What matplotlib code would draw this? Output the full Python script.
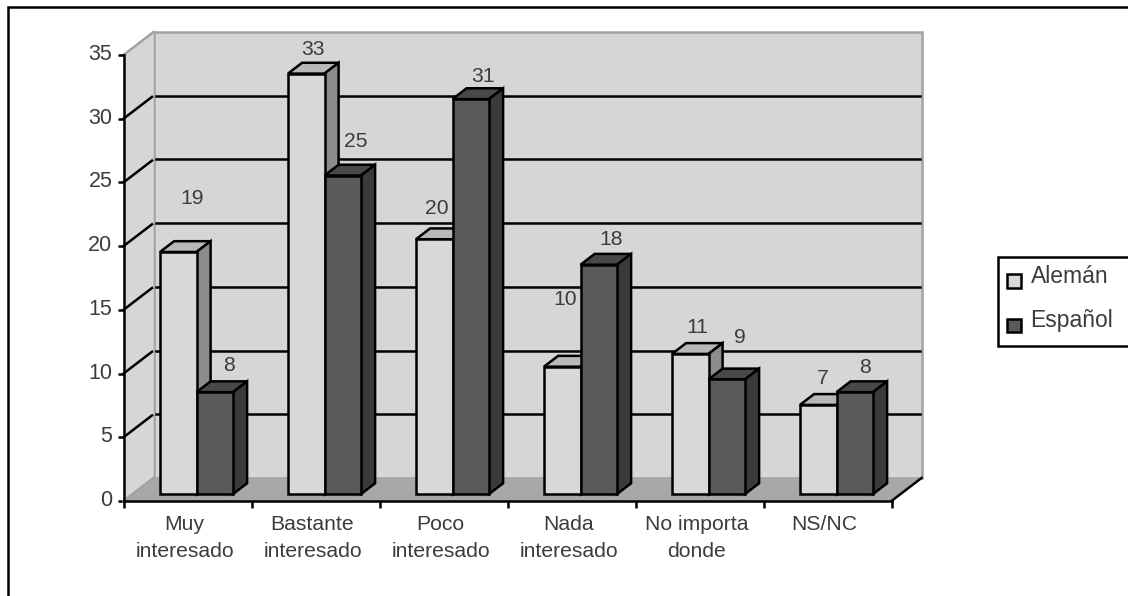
import matplotlib
matplotlib.use("Agg")
import matplotlib.pyplot as plt
from matplotlib.legend_handler import HandlerPatch
from matplotlib.lines import Line2D
from matplotlib.patches import Patch, Polygon, Rectangle
from matplotlib.transforms import ScaledTranslation

categories = ["Muy\ninteresado", "Bastante\ninteresado", "Poco\ninteresado",
              "Nada\ninteresado", "No importa\ndonde", "NS/NC"]
aleman = [19, 33, 20, 10, 11, 7]
espanol = [8, 25, 31, 18, 9, 8]
y_ticks = [0, 5, 10, 15, 20, 25, 30, 35]

# label offsets from the top-centre of each bar front, in pixels (x right, y up)
aleman_label_off = [(14, 53), (7, 24), (3, 31), (3, 67), (7, 26), (5, 26)]
espanol_label_off = [(14, 27), (13, 34), (12, 23), (12, 25), (13, 42), (10, 25)]

W, H = 1128, 596
DPI = 100
plt.rcParams["font.family"] = ["Liberation Sans", "DejaVu Sans"]
TXT = "#3c3c3c"
WALL = "#d6d6d6"
FLOOR = "#a8a8a8"
EDGE = "#a2a2a2"
LIGHT = ("#d8d8d8", "#b8b8b8", "#8c8c8c")
DARK = ("#5a5a5a", "#484848", "#3a3a3a")

fig = plt.figure(figsize=(W / DPI, H / DPI), dpi=DPI, facecolor="white")
x0, x1, y0, y1 = 123.5, 891.5, 501, 55
ax = fig.add_axes([x0 / W, 1 - y0 / H, (x1 - x0) / W, (y0 - y1) / H])
ax.set_xlim(0, 6)
ax.set_ylim(0, 35)
ax.patch.set_visible(False)

px_x = 6 / (x1 - x0)
px_y = 35 / (y0 - y1)
DX, DY = 30 * px_x, 23 * px_y   # depth of the chart box, data units
lw = 1.8


def d(x, y, f):
    return (x + f * DX, y + f * DY)


# walls and floor
ax.add_patch(Polygon([d(0, 0, 1), d(6, 0, 1), d(6, 35, 1), d(0, 35, 1)], fc=WALL, ec=EDGE, lw=lw,
                     zorder=1, clip_on=False))
ax.add_patch(Polygon([d(0, 0, 0), d(0, 0, 1), d(0, 35, 1), d(0, 35, 0)], fc=WALL, ec="none",
                     zorder=1, clip_on=False))
ax.plot(*zip(d(0, 35, 0), d(0, 35, 1)), color=EDGE, lw=lw, zorder=1.5, clip_on=False)
ax.add_patch(Polygon([d(0, 0, 0), d(6, 0, 0), d(6, 0, 1), d(0, 0, 1)], fc=FLOOR, ec="none",
                     zorder=2, clip_on=False))
ax.plot(*zip(d(6, 0, 0), d(6, 0, 1)), color="black", lw=lw, zorder=2.5, clip_on=False)
ax.plot(*zip(d(0, 0, 0), d(0, 0, 1)), color=EDGE, lw=lw, zorder=2.5, clip_on=False)

# gridlines
for t in y_ticks[1:-1]:
    ax.plot(*zip(d(0, t, 0), d(0, t, 0.95)), color="black", lw=lw, zorder=1.6, clip_on=False)
    ax.plot([DX + 2 * px_x, 6 + DX - 2 * px_x], [t + DY, t + DY], color="black", lw=lw, zorder=1.6, clip_on=False)

# bars
F0, F1 = 0.30, 0.77
BW = 36.5 * px_x
pos = [i + 0.5 for i in range(len(categories))]


def draw_series(xs, vals, cols, offs, z, label):
    xf = [x + F0 * DX for x in xs]
    ax.bar(xf, vals, width=BW, bottom=F0 * DY, align="edge", color=cols[0], edgecolor="black",
           linewidth=lw, zorder=z + 0.2, clip_on=False, label=label)
    for x, v, off in zip(xs, vals, offs):
        xa, xb = x, x + BW
        ax.add_patch(Polygon([d(xa, v, F0), d(xb, v, F0), d(xb, v, F1), d(xa, v, F1)], closed=True,
                             fc=cols[1], ec="black", lw=lw, zorder=z, joinstyle="miter", clip_on=False))
        ax.add_patch(Polygon([d(xb, 0, F0), d(xb, 0, F1), d(xb, v, F1), d(xb, v, F0)], closed=True,
                             fc=cols[2], ec="black", lw=lw, zorder=z, joinstyle="miter", clip_on=False))
        ax.annotate(str(v), xy=d(x + BW / 2, v, F0), xytext=(off[0] * 72 / DPI, off[1] * 72 / DPI),
                    textcoords="offset points", ha="center", va="center", fontsize=15.2,
                    color=TXT, zorder=20, annotation_clip=False)


draw_series([p - BW for p in pos], aleman, LIGHT, aleman_label_off, 5, "Alemán")
draw_series(pos, espanol, DARK, espanol_label_off, 6, "Español")

# axes
for s in ("top", "right"):
    ax.spines[s].set_visible(False)
for s in ("left", "bottom"):
    ax.spines[s].set_linewidth(lw)
    ax.spines[s].set_zorder(15)
ax.set_yticks(y_ticks)
ax.tick_params(axis="y", length=4.5, width=lw, pad=3.5, labelsize=15.5, labelcolor=TXT)
ax.set_xticks(range(7))
ax.set_xticklabels([])
ax.set_xticks(pos, minor=True)
ax.set_xticklabels(categories, minor=True, fontsize=15.2, color=TXT, linespacing=1.56)
ax.tick_params(axis="x", which="major", length=5, width=lw)
ax.tick_params(axis="x", which="minor", length=0, pad=10)
for lab in ax.get_yticklabels():
    lab.set_transform(lab.get_transform() + ScaledTranslation(0, 3 / DPI, fig.dpi_scale_trans))
for lab in ax.get_xticklabels(minor=True):
    lab.set_transform(lab.get_transform() + ScaledTranslation(-3 / DPI, 0, fig.dpi_scale_trans))


# legend: box cut off by the right edge of the picture, swatch sitting below the text baseline
def swatch(legend, orig_handle, xdescent, ydescent, width, height, fontsize):
    return Rectangle((-0.7, -3.6), 10, 10)


fig.add_artist(Rectangle((998 / W, 1 - 346 / H), 140 / W, 89 / H, transform=fig.transFigure,
                         fc="white", ec="black", lw=lw))
handles = [Patch(fc=LIGHT[0], ec="black", lw=lw, label="Alemán"),
           Patch(fc=DARK[0], ec="black", lw=lw, label="Español")]
leg = fig.legend(handles=handles, loc="upper left", bbox_to_anchor=(999 / W, 1 - 256 / H),
                 fontsize=16.5, frameon=False, borderaxespad=0, borderpad=0.38,
                 handlelength=0.6, handleheight=0.7, handletextpad=0.4, labelspacing=0.95,
                 labelcolor=TXT, handler_map={Patch: HandlerPatch(patch_func=swatch)})

# outer frame, cut off by the right and bottom of the picture
fig.add_artist(Line2D([7.5 / W, 7.5 / W, 1.0], [0, 1 - 6.5 / H, 1 - 6.5 / H], transform=fig.transFigure,
                      color="black", lw=lw, solid_joinstyle="miter"))

fig.savefig("out.png", dpi=DPI, facecolor="white")
